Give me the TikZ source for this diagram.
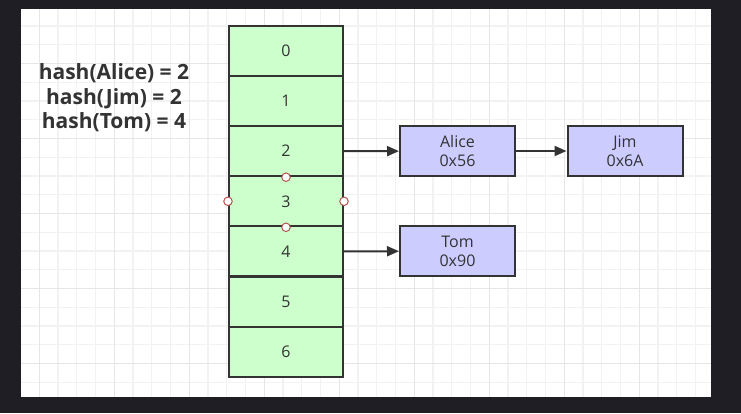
\documentclass[tikz,border=0pt]{standalone}
\usepackage{fontspec}
\setmainfont{Open Sans}
\usetikzlibrary{arrows.meta}
\definecolor{bg}{RGB}{30,30,36}
\definecolor{ink}{RGB}{51,51,51}
\definecolor{cellgreen}{RGB}{204,255,204}
\definecolor{boxblue}{RGB}{204,204,255}
\definecolor{gridminor}{RGB}{242,242,242}
\definecolor{gridmajor}{RGB}{230,230,230}
\definecolor{handle}{RGB}{184,84,80}
\begin{document}
\begin{tikzpicture}[x=1pt, y=-1pt,
    cell/.style={draw=ink, line width=2pt, fill=cellgreen, minimum width=114pt, minimum height=50pt, inner sep=0pt, text=ink, font=\fontsize{16}{19}\selectfont},
    entry/.style={draw=ink, line width=2pt, fill=boxblue, minimum width=115pt, minimum height=50pt, inner sep=0pt, align=center, text=ink, font=\fontsize{16}{19}\selectfont},
    link/.style={draw=ink, line width=2pt, -{Triangle[length=12pt, width=10pt]}},
    handlept/.style={circle, draw=handle, fill=white, line width=1pt, minimum size=8.5pt, inner sep=0pt}]
    \fill[bg] (0,0) rectangle (741,413);
    \fill[white] (21,9) rectangle (711,397);
    \begin{scope}
        \clip (21,9) rectangle (711,397);
        \foreach \k in {2,...,37}
            \draw[gridminor, line width=1.2pt] ({1.8+18.75*\k},9) -- ({1.8+18.75*\k},397);
        \foreach \k in {1,...,20}
            \draw[gridminor, line width=1.2pt] (21,{7.3+18.75*\k}) -- (711,{7.3+18.75*\k});
        \foreach \k in {0,...,8}
            \draw[gridmajor, line width=1.2pt] ({39.3+75*\k},9) -- ({39.3+75*\k},397);
        \foreach \k in {0,...,4}
            \draw[gridmajor, line width=1.2pt] (21,{63.55+75*\k}) -- (711,{63.55+75*\k});
    \end{scope}
    \foreach \i in {0,...,6}
        \node[cell] (c\i) at (286,{51+50.1*\i}) {\i};
    \node[handlept] (h1) at (c2.south) {};
    \node[handlept] (h2) at (c3.south) {};
    \node[handlept] (h3) at (c3.west) {};
    \node[handlept] (h4) at (c3.east) {};
    \node[entry] (alice) at (457.5,151) {Alice\\0x56};
    \node[entry] (jim) at (625,151) {Jim\\0x6A};
    \node[entry] (tom) at (457.5,251) {Tom\\0x90};
    \draw[link] (c2.east) -- (alice);
    \draw[link] (alice) -- (jim);
    \draw[link] (c4.east) -- (tom);
    \node[align=center, text=ink, font=\bfseries\fontsize{21}{24.5}\selectfont] (hashes) at (114,98) {hash(Alice) = 2\\hash(Jim) = 2\\hash(Tom) = 4};
\end{tikzpicture}
\end{document}
